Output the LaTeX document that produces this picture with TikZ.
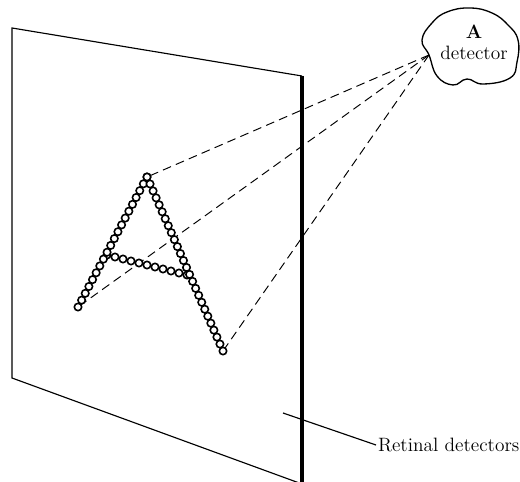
\documentclass[tikz,border=0pt]{standalone}
\usetikzlibrary{calc}

\tikzset{
  ray/.style={dashed, dash pattern=on 5pt off 3pt, line width=.55pt},
  dot/.style={draw, fill=white, line width=.9pt},
  panel/.style={line width=.65pt, line join=miter},
  txt/.style={font=\fontsize{11}{13}\selectfont},
}
\newcommand\dotrow[3]{%
  \foreach \i in {0,...,#3} \path[dot] ($(#1)!\i/#3!(#2)$) circle[radius=.074cm];}

\begin{document}
\begin{tikzpicture}[x=.02cm,y=-.02cm]
  \useasboundingbox (0,0) rectangle (520,482);
  % retina
  \coordinate (tl) at (12,28);
  \coordinate (tr) at (302,76);
  \coordinate (br) at (302,484);
  \coordinate (bl) at (12,378);
  \draw[panel] (tr) -- (tl) -- (bl) -- (br);
  \draw[line width=1.9pt] (tr) -- (br);
  % letter
  \coordinate (apex) at (147,177);
  \coordinate (lfoot) at (78,307);
  \coordinate (rfoot) at (223,351);
  \coordinate (barl) at (107,255);
  \coordinate (barr) at (187,275);
  \coordinate (focus) at (429,55);
  \draw[ray] (focus) -- (apex);
  \draw[ray] (focus) -- (lfoot);
  \draw[ray] (focus) -- (rfoot);
  \dotrow{barl}{barr}{10}
  \dotrow{apex}{lfoot}{19}
  \dotrow{apex}{rfoot}{25}
  % detector
  \draw[line width=.75pt] plot[smooth cycle, tension=.75] coordinates {
    (432,23) (447,12) (470,8) (492,13) (508,25) (518,40) (517,62)
    (510,78) (483,84) (467,79) (453,85) (437,76) (429,55) (422,40)};
  \node[txt, align=center, inner sep=0pt] (det) at (474,42)
    {\textbf{A}\\[-1pt]detector};
  % label
  \coordinate (ret) at (283,413);
  \node[txt, anchor=west, inner sep=1pt] (lbl) at (376,445) {Retinal detectors};
  \draw[line width=.65pt] (ret) -- (lbl.west);
\end{tikzpicture}
\end{document}
